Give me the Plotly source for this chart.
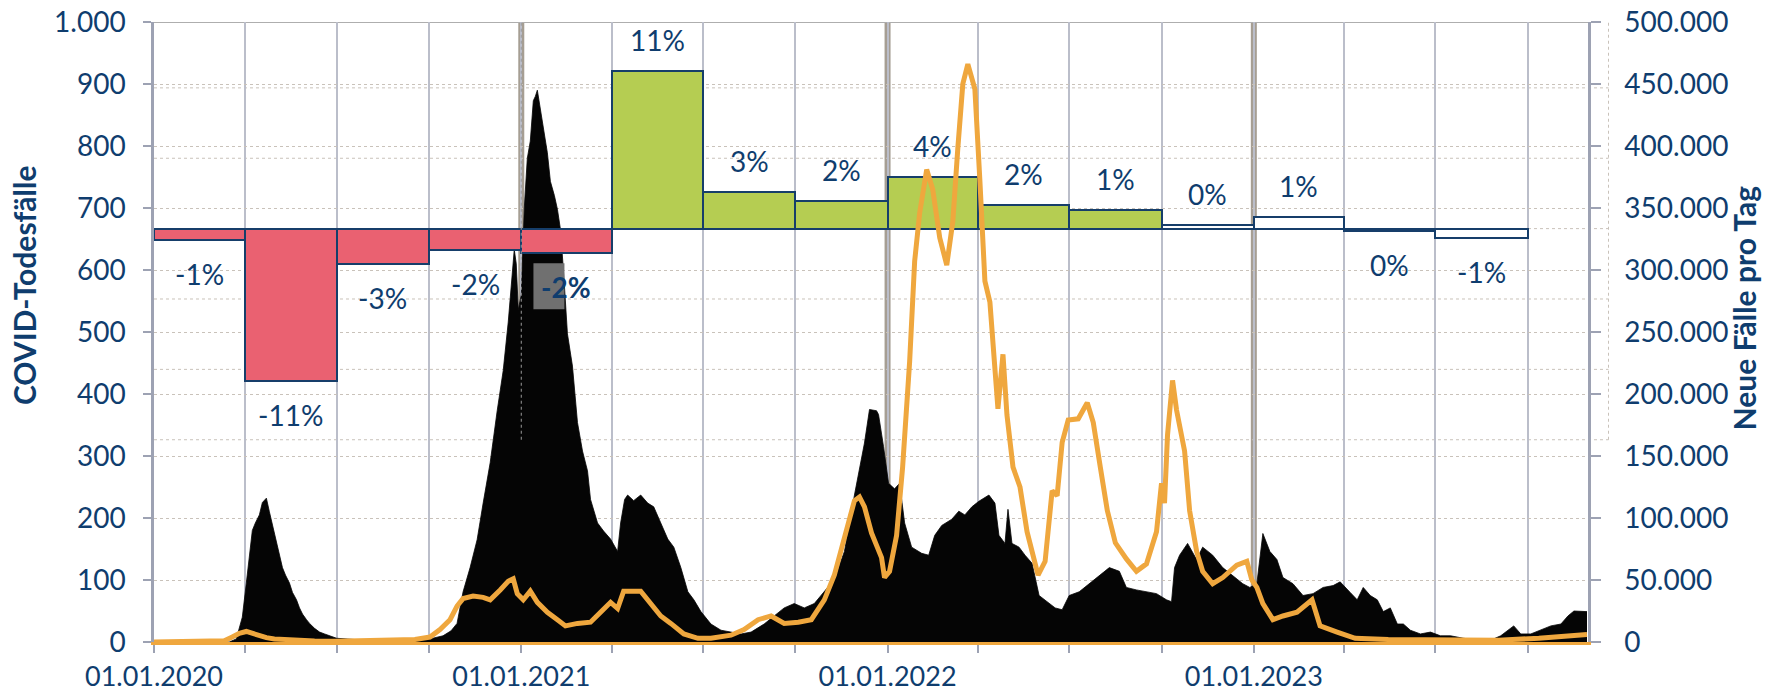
import plotly.graph_objects as go
import pandas as pd

# ---------------- data ----------------
death_dates = [
    "2020-01-01", "2020-03-16", "2020-03-23", "2020-03-29", "2020-04-02", "2020-04-05", "2020-04-08",
    "2020-04-11", "2020-04-15", "2020-04-18", "2020-04-22", "2020-04-25", "2020-04-28", "2020-05-02",
    "2020-05-05", "2020-05-08", "2020-05-11", "2020-05-15", "2020-05-18", "2020-05-22", "2020-05-25",
    "2020-05-28", "2020-06-01", "2020-06-04", "2020-06-09", "2020-06-14", "2020-06-19", "2020-06-24",
    "2020-07-01", "2020-07-19", "2020-08-08", "2020-08-28", "2020-09-17", "2020-10-02", "2020-10-15",
    "2020-10-23", "2020-10-29", "2020-11-04", "2020-11-11", "2020-11-18", "2020-11-24", "2020-12-01",
    "2020-12-08", "2020-12-14", "2020-12-19", "2020-12-23", "2020-12-25", "2020-12-27", "2020-12-29",
    "2021-01-01", "2021-01-04", "2021-01-07", "2021-01-10", "2021-01-13", "2021-01-15", "2021-01-17",
    "2021-01-19", "2021-01-20", "2021-01-23", "2021-01-27", "2021-01-30", "2021-02-03", "2021-02-06",
    "2021-02-09", "2021-02-12", "2021-02-16", "2021-02-21", "2021-02-26", "2021-03-03", "2021-03-08",
    "2021-03-11", "2021-03-18", "2021-03-24", "2021-03-31", "2021-04-07", "2021-04-10", "2021-04-14",
    "2021-04-17", "2021-04-23", "2021-04-30", "2021-05-07", "2021-05-13", "2021-05-20", "2021-05-27",
    "2021-06-02", "2021-06-09", "2021-06-16", "2021-06-22", "2021-06-29", "2021-07-09", "2021-07-19",
    "2021-07-29", "2021-08-08", "2021-08-18", "2021-08-31", "2021-09-10", "2021-09-20", "2021-09-30",
    "2021-10-10", "2021-10-20", "2021-10-30", "2021-11-09", "2021-11-19", "2021-11-29", "2021-12-09",
    "2021-12-14", "2021-12-21", "2021-12-23", "2021-12-28", "2022-01-02", "2022-01-08", "2022-01-13",
    "2022-01-18", "2022-01-25", "2022-02-04", "2022-02-11", "2022-02-17", "2022-02-24", "2022-03-06",
    "2022-03-13", "2022-03-19", "2022-03-26", "2022-04-02", "2022-04-12", "2022-04-18", "2022-04-22",
    "2022-04-28", "2022-05-01", "2022-05-05", "2022-05-12", "2022-05-18", "2022-05-25", "2022-06-01",
    "2022-06-07", "2022-06-17", "2022-06-24", "2022-07-01", "2022-07-11", "2022-07-21", "2022-07-31",
    "2022-08-10", "2022-08-20", "2022-08-27", "2022-09-06", "2022-09-16", "2022-09-26", "2022-10-06",
    "2022-10-11", "2022-10-14", "2022-10-19", "2022-10-27", "2022-11-05", "2022-11-11", "2022-11-21",
    "2022-12-01", "2022-12-11", "2022-12-21", "2022-12-28", "2023-01-04", "2023-01-10", "2023-01-17",
    "2023-01-24", "2023-01-30", "2023-02-09", "2023-02-19", "2023-03-01", "2023-03-11", "2023-03-21",
    "2023-03-28", "2023-04-07", "2023-04-14", "2023-04-20", "2023-04-27", "2023-05-04", "2023-05-10",
    "2023-05-17", "2023-05-24", "2023-05-30", "2023-06-06", "2023-06-16", "2023-06-26", "2023-07-06",
    "2023-07-16", "2023-07-29", "2023-08-12", "2023-08-25", "2023-09-04", "2023-09-17", "2023-09-24",
    "2023-10-04", "2023-10-14", "2023-10-24", "2023-11-03", "2023-11-10", "2023-11-16", "2023-11-26",
    "2023-11-29",
]
death_values = [
    0, 0, 5, 40, 95, 140, 180,
    192, 205, 225, 232, 210, 190, 165,
    140, 120, 108, 95, 80, 68, 55,
    45, 36, 30, 22, 16, 13, 10,
    6, 4, 3, 3, 4, 5, 10,
    18, 30, 81, 120, 165, 224, 289,
    373, 438, 516, 600, 633, 610, 536,
    560, 700, 780, 808, 873, 880, 890,
    870, 860, 834, 789, 743, 720, 698,
    666, 600, 497, 445, 354, 308, 276,
    230, 192, 179, 166, 146, 192, 230,
    237, 228, 237, 224, 218, 192, 166,
    153, 120, 81, 68, 49, 29, 19,
    16, 13, 16, 29, 42, 55, 62,
    55, 62, 81, 101, 146, 237, 321,
    375, 373, 367, 315, 256, 247, 256,
    192, 153, 143, 140, 172, 188, 198,
    211, 205, 218, 227, 237, 224, 172,
    159, 214, 159, 153, 140, 127, 75,
    68, 55, 52, 75, 81, 94, 107,
    120, 114, 88, 84, 81, 78, 68,
    65, 120, 140, 159, 133, 153, 140,
    120, 107, 94, 88, 94, 175, 146,
    133, 104, 94, 75, 78, 88, 91,
    97, 80, 68, 88, 75, 68, 49,
    55, 29, 29, 19, 13, 16, 10,
    10, 6, 3, 3, 10, 26, 13,
    13, 19, 26, 29, 42, 50, 49,
    49,
]

case_dates = [
    "2020-01-01", "2020-03-01", "2020-03-11", "2020-03-19", "2020-03-26", "2020-04-02", "2020-04-08",
    "2020-04-15", "2020-04-22", "2020-04-30", "2020-05-15", "2020-06-09", "2020-07-01", "2020-07-19",
    "2020-08-08", "2020-08-28", "2020-09-17", "2020-10-02", "2020-10-12", "2020-10-22", "2020-10-29",
    "2020-11-04", "2020-11-14", "2020-11-24", "2020-12-01", "2020-12-11", "2020-12-19", "2020-12-24",
    "2020-12-28", "2021-01-03", "2021-01-10", "2021-01-17", "2021-01-27", "2021-02-06", "2021-02-14",
    "2021-02-26", "2021-03-11", "2021-03-21", "2021-03-31", "2021-04-07", "2021-04-13", "2021-04-30",
    "2021-05-10", "2021-05-20", "2021-05-30", "2021-06-12", "2021-06-26", "2021-07-09", "2021-07-29",
    "2021-08-11", "2021-08-25", "2021-09-07", "2021-09-20", "2021-10-04", "2021-10-17", "2021-10-30",
    "2021-11-09", "2021-11-19", "2021-11-29", "2021-12-04", "2021-12-09", "2021-12-16", "2021-12-21",
    "2021-12-26", "2021-12-29", "2022-01-03", "2022-01-10", "2022-01-16", "2022-01-23", "2022-01-28",
    "2022-02-02", "2022-02-09", "2022-02-15", "2022-02-22", "2022-03-01", "2022-03-07", "2022-03-12",
    "2022-03-17", "2022-03-22", "2022-03-29", "2022-04-03", "2022-04-08", "2022-04-13", "2022-04-18",
    "2022-04-21", "2022-04-26", "2022-04-30", "2022-05-06", "2022-05-13", "2022-05-20", "2022-05-26",
    "2022-05-31", "2022-06-07", "2022-06-14", "2022-06-19", "2022-06-24", "2022-06-30", "2022-07-10",
    "2022-07-19", "2022-07-25", "2022-08-01", "2022-08-08", "2022-08-16", "2022-08-27", "2022-09-06",
    "2022-09-16", "2022-09-26", "2022-10-01", "2022-10-04", "2022-10-07", "2022-10-12", "2022-10-16",
    "2022-10-24", "2022-10-29", "2022-11-05", "2022-11-11", "2022-11-21", "2022-12-01", "2022-12-15",
    "2022-12-25", "2022-12-30", "2023-01-04", "2023-01-10", "2023-01-20", "2023-01-30", "2023-02-13",
    "2023-02-28", "2023-03-08", "2023-03-25", "2023-04-12", "2023-05-15", "2023-07-25", "2023-09-02",
    "2023-10-12", "2023-11-01", "2023-11-21", "2023-11-29",
]
case_values = [
    0, 200, 1000, 4000, 7000, 8500, 7000,
    5000, 3500, 2500, 1500, 800, 600, 800,
    1200, 1500, 2000, 4000, 10000, 18000, 29000,
    35000, 37000, 36000, 34000, 42000, 49000, 51000,
    39000, 34000, 41000, 32000, 24000, 18000, 13000,
    15000, 16000, 24000, 32000, 27000, 41000, 41000,
    31000, 21000, 15000, 6500, 3000, 3000, 5500,
    10000, 18000, 21000, 15000, 16000, 18000, 34000,
    54000, 83000, 114000, 117000, 109000, 88000, 78000,
    68000, 52000, 57000, 86000, 141000, 226000, 307000,
    346000, 381000, 365000, 326000, 304000, 339000, 398000,
    450000, 466000, 446000, 372000, 291000, 274000, 219000,
    188000, 232000, 183000, 141000, 125000, 89000, 70000,
    54000, 65000, 122000, 118000, 161000, 179000, 180000,
    193000, 177000, 141000, 106000, 80000, 67000, 57000,
    63000, 89000, 128000, 112000, 167000, 211000, 187000,
    154000, 106000, 73000, 57000, 47000, 52000, 62000,
    65000, 50000, 44000, 31000, 18000, 21000, 24000,
    34000, 13000, 8000, 3000, 2000, 1500, 1500,
    3000, 4500, 6000, 6000,
]

quarters = [
    "2020-01-01", "2020-04-01", "2020-07-01", "2020-10-01",
    "2021-01-01", "2021-04-01", "2021-07-01", "2021-10-01",
    "2022-01-01", "2022-04-01", "2022-07-01", "2022-10-01",
    "2023-01-01", "2023-04-01", "2023-07-01",
]
quarters_end = "2023-10-01"
excess_pct = [-0.8, -10.8, -2.5, -1.55, -1.75, 11.2, 2.6, 1.95,
              3.67, 1.67, 1.33, 0.28, 0.81, -0.2, -0.65]
pct_labels = ["-1%", "-11%", "-3%", "-2%", "-2%", "11%", "3%", "2%",
              "4%", "2%", "1%", "0%", "1%", "0%", "-1%"]
year_starts = ["2021-01-01", "2022-01-01", "2023-01-01"]
x_ticks = ["2020-01-01", "2020-04-01", "2020-07-01", "2020-10-01",
           "2021-01-01", "2021-04-01", "2021-07-01", "2021-10-01",
           "2022-01-01", "2022-04-01", "2022-07-01", "2022-10-01",
           "2023-01-01", "2023-04-01", "2023-07-01", "2023-10-01"]
x_ticktext = ["01.01.2020", "", "", "", "01.01.2021", "", "", "",
              "01.01.2022", "", "", "", "01.01.2023", "", "", ""]
pct_grid = [-15, -10, -5, 0, 5, 10]

# ---------------- styles ----------------
NAVY = "#0F3D6E"
OUTLINE = "#163E6A"
RED = "#EA6171"
GREEN = "#B5CD52"
ORANGE = "#EFA73E"
GRID_DOT = "#C9C2BA"
QGRID = "#BBBECA"
YEARLINE = "#A69E93"
AXIS = "#9DA2B3"
FONT = "Lato, 'Open Sans', sans-serif"
TICK_SIZE = 28
XTICK_SIZE = 27
TITLE_SIZE = 30

bar_fill = [RED] * 5 + [GREEN] * 6 + ["white"] * 4

PCT_RANGE = [-29.37, 14.68]

q_start = pd.to_datetime(quarters)
q_end = list(q_start[1:]) + [pd.Timestamp(quarters_end)]
widths_ms = [(e - s).total_seconds() * 1000 for s, e in zip(q_start, q_end)]
q_mid = [s + (e - s) / 2 for s, e in zip(q_start, q_end)]

fig = go.Figure()

# deaths (area, left axis)
fig.add_trace(go.Scatter(
    x=death_dates, y=death_values, mode="lines", fill="tozeroy",
    line=dict(color="#050505", width=0.8), fillcolor="#050505",
    yaxis="y", hoverinfo="skip", showlegend=False,
))

# excess mortality bars (hidden percent axis)
fig.add_trace(go.Bar(
    x=quarters, y=excess_pct, base=0, offset=0, width=widths_ms,
    marker=dict(color=bar_fill, line=dict(color=OUTLINE, width=2)),
    yaxis="y2", hoverinfo="skip", showlegend=False,
))

# new cases (line, right axis)
fig.add_trace(go.Scatter(
    x=case_dates, y=case_values, mode="lines",
    line=dict(color=ORANGE, width=5),
    yaxis="y3", hoverinfo="skip", showlegend=False,
))

shapes = []
for ys in year_starts:
    shapes.append(dict(type="line", xref="x", yref="paper", x0=ys, x1=ys, y0=0, y1=1,
                       line=dict(color=YEARLINE, width=6), layer="below"))
for g in pct_grid:
    shapes.append(dict(type="line", xref="paper", yref="y2", x0=0, x1=1.0143, y0=g, y1=g,
                       line=dict(color=GRID_DOT, width=1, dash="dot"), layer="below"))
shapes.append(dict(type="line", xref="paper", yref="y2", x0=1.0143, x1=1.0143,
                   y0=pct_grid[0], y1=PCT_RANGE[1],
                   line=dict(color=GRID_DOT, width=1, dash="dot"), layer="below"))
shapes.append(dict(type="line", xref="x", yref="y2", x0=year_starts[0], x1=year_starts[0],
                   y0=pct_grid[0], y1=PCT_RANGE[1],
                   line=dict(color="#9A9A9A", width=1, dash="dot"), layer="above"))
shapes.append(dict(type="line", xref="paper", yref="y", x0=0, x1=1, y0=1000, y1=1000,
                   line=dict(color="#AEAEAE", width=2), layer="below"))
shapes.append(dict(type="rect", xref="x", yref="y2", xsizemode="pixel", ysizemode="pixel",
                   xanchor=q_mid[4], yanchor=excess_pct[4], x0=-33, x1=-2, y0=-56, y1=-10,
                   fillcolor="#707070", line=dict(width=0), layer="above"))

annotations = []
for i, (m, p, lab) in enumerate(zip(q_mid, excess_pct, pct_labels)):
    bold = (i == 4)
    annotations.append(dict(
        x=m, y=p, xref="x", yref="y2", text=f"<b>{lab}</b>" if bold else lab,
        showarrow=False, yshift=31 if p > 0 else -34,
        xanchor="center", yanchor="middle",
        font=dict(family=FONT, size=TICK_SIZE, color=NAVY),
    ))
annotations.append(dict(
    x=-0.0905, y=0.576, xref="paper", yref="paper", text="<b>COVID-Todesfälle</b>",
    textangle=-90, showarrow=False, xanchor="center", yanchor="middle",
    font=dict(family=FONT, size=TITLE_SIZE, color=NAVY),
))
annotations.append(dict(
    x=1.1085, y=0.539, xref="paper", yref="paper", text="<b>Neue Fälle pro Tag</b>",
    textangle=-90, showarrow=False, xanchor="center", yanchor="middle",
    font=dict(family=FONT, size=TITLE_SIZE, color=NAVY),
))

fig.update_layout(
    width=1779, height=695,
    margin=dict(l=154, r=191, t=22, b=53, autoexpand=False),
    paper_bgcolor="white", plot_bgcolor="white",
    separators=",.",
    showlegend=False,
    bargap=0,
    font=dict(family=FONT, color=NAVY),
    xaxis=dict(
        type="date", range=["2020-01-01", "2023-11-30"], automargin=False,
        tickmode="array", tickvals=x_ticks, ticktext=x_ticktext,
        showgrid=True, gridcolor=QGRID, gridwidth=2,
        ticks="outside", ticklen=8, tickcolor=AXIS, tickwidth=2,
        showline=True, linecolor=ORANGE, linewidth=3,
        tickfont=dict(family=FONT, size=XTICK_SIZE, color=NAVY),
        ticklabelstandoff=1, zeroline=False,
    ),
    yaxis=dict(
        range=[0, 1000], tickmode="linear", tick0=0, dtick=100, tickformat=",d",
        automargin=False,
        showgrid=True, gridcolor=GRID_DOT, griddash="dot", gridwidth=1,
        ticks="outside", ticklen=8, tickcolor=AXIS, tickwidth=2,
        showline=True, linecolor=AXIS, linewidth=2.5,
        tickfont=dict(family=FONT, size=TICK_SIZE, color=NAVY),
        ticklabelstandoff=12, zeroline=False,
    ),
    yaxis2=dict(
        range=PCT_RANGE, overlaying="y", visible=False, showgrid=False, zeroline=False,
    ),
    yaxis3=dict(
        range=[0, 500000], overlaying="y", side="right", tickmode="linear",
        automargin=False,
        tick0=0, dtick=50000, tickformat=",d", showgrid=False, zeroline=False,
        ticks="outside", ticklen=10, tickcolor=AXIS, tickwidth=2,
        showline=True, linecolor=AXIS, linewidth=2.5,
        tickfont=dict(family=FONT, size=TICK_SIZE, color=NAVY),
        ticklabelstandoff=18,
    ),
    shapes=shapes,
    annotations=annotations,
)

fig.write_html(
    "out.html",
    config={"displayModeBar": False},
    post_script="document.body.style.margin='0';document.body.style.overflow='hidden';",
)
